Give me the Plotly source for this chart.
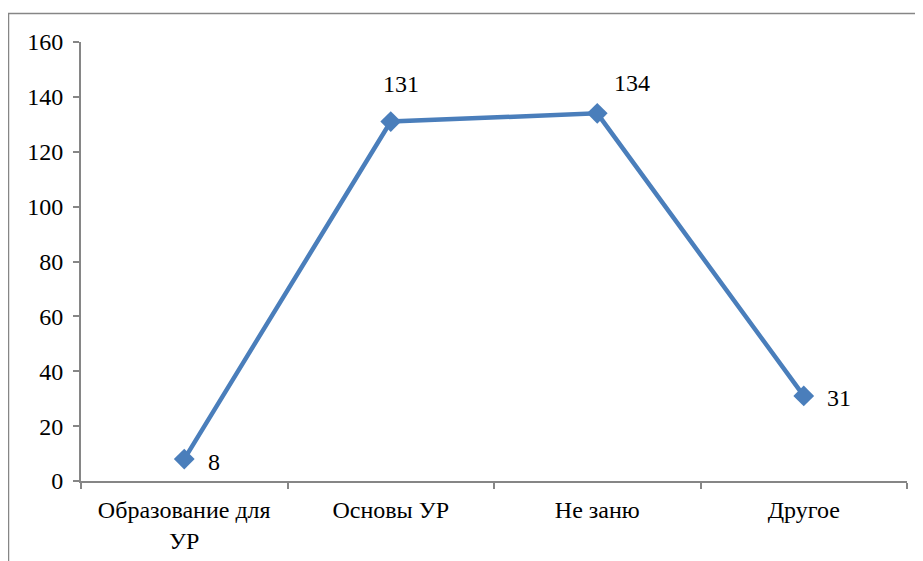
import plotly.graph_objects as go

categories = ["Образование для<br>УР", "Основы УР", "Не заню", "Другое"]
values = [8, 131, 134, 31]
label_text = ["8", "131", "134", "31"]

label_dx = [30, 10, 35, 35]
label_dy = [-3, 38, 30, -2]

FONT = "Liberation Serif"
FS = 24
LINE_COLOR = "#4A7EBB"
AXIS_COLOR = "#868686"

fig = go.Figure()
fig.add_trace(go.Scatter(
    x=categories, y=values, mode="lines+markers",
    line=dict(color=LINE_COLOR, width=4.5),
    marker=dict(symbol="diamond", size=16, color=LINE_COLOR),
    hoverinfo="skip", showlegend=False,
))

for c, v, t, dx, dy in zip(categories, values, label_text, label_dx, label_dy):
    fig.add_annotation(x=c, y=v, text=t, showarrow=False, xshift=dx, yshift=dy,
                       font=dict(family=FONT, size=FS, color="black"))

# page body has an 8px margin; figure coordinates are screen - 8
W, H = 923, 561
L, R, T, B = 73, 24, 34, 88
pw, ph = W - L - R, H - T - B
fig.add_shape(type="rect", xref="paper", yref="paper",
              x0=(0.5 - L) / pw, x1=(W + 20 - L) / pw,
              y0=(H - B - (H + 20)) / ph, y1=(H - B - 5.5) / ph,
              line=dict(color=AXIS_COLOR, width=1.5), layer="below")

fig.update_layout(
    width=W, height=H,
    margin=dict(l=L, r=R, t=T, b=B, pad=0),
    paper_bgcolor="white", plot_bgcolor="white",
    font=dict(family=FONT, size=FS, color="black"),
    xaxis=dict(type="category", range=[-0.5, 3.5], showline=True, linecolor=AXIS_COLOR,
               linewidth=2, ticks="outside", tickson="boundaries", ticklen=6,
               tickcolor=AXIS_COLOR, tickwidth=2, showgrid=False, zeroline=False,
               ticklabelstandoff=6,
               tickfont=dict(family=FONT, size=FS)),
    yaxis=dict(range=[0, 160], dtick=20, showline=True, linecolor=AXIS_COLOR,
               linewidth=2, ticks="outside", ticklen=6, tickcolor=AXIS_COLOR,
               tickwidth=2, showgrid=False, zeroline=False,
               ticklabelstandoff=5,
               tickfont=dict(family=FONT, size=FS)),
)

fig.write_html("out.html")
